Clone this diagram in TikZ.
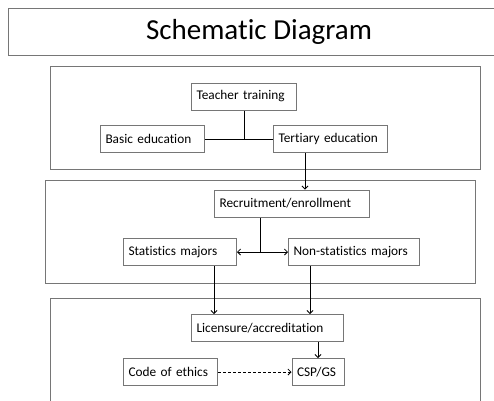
\documentclass[tikz,border=0pt]{standalone}
\usepackage{fontspec}
\setmainfont{Carlito}[Ligatures = NoCommon]
\usetikzlibrary{arrows.meta}
\usetikzlibrary{positioning}
\definecolor{framegray}{RGB}{118,118,118}
\tikzset{frame/.style = {draw = framegray, line width = 1pt}}
\tikzset{box/.style = {draw = framegray, line width = 1pt, minimum height = 27pt, inner xsep = 5pt, inner ysep = 3pt, align = left, font = \fontsize{13.3}{15}\selectfont}}
\tikzset{link/.style = {line width = 0.8pt, -{Straight Barb[length = 3pt, width = 6pt]}}}

\begin{document}
\begin{tikzpicture}[x = 1pt, y = -1pt]
      \useasboundingbox (0, 0) rectangle (494, 400);

      \draw [frame] (8, 8) rectangle (500, 55);
      \node (title) at (259, 31.5) {\fontsize{29}{34}\selectfont Schematic Diagram};

      \draw [frame] (50, 66) rectangle (480, 169);
      \draw [frame] (45, 180) rectangle (475, 283);
      \draw [frame] (50, 298) rectangle (480, 410);

      \node [box, text width = 95pt] (teach) at (244, 96.5) {Teacher training};
      \node [box, text width = 94pt] (basic) at (152.5, 139) {Basic education};
      \node [box, text width = 104pt] (tert) at (330.5, 139) {Tertiary education};

      \node [box, text width = 145pt] (recr) at (292, 203.5) {Recruitment/enrollment};
      \node [box, text width = 103pt] (stat) at (180, 252) {Statistics majors};
      \node [box, text width = 121pt] (nonstat) at (354, 252) {Non-statistics majors};

      \node [box, text width = 142pt] (lic) at (267.5, 328) {Licensure/accreditation};
      \node [box, text width = 84pt] (code) at (170.5, 372) {Code of ethics};
      \node [box, text width = 42pt] (csp) at (318, 372) {CSP/GS};

      \draw [line width = 0.8pt] (teach.south) -- (teach.south |- basic);
      \draw [line width = 0.8pt] (basic.east) -- (tert.west);
      \draw [link] ([xshift = -25.5pt] tert.south) coordinate (t1) -- (t1 |- recr.north);

      \draw [line width = 0.8pt] ([xshift = -32pt] recr.south) coordinate (r1) -- (r1 |- stat) coordinate (split);
      \draw [link] (split) -- (stat.east);
      \draw [link] (split) -- (nonstat.west);

      \draw [link] ([xshift = 34pt] stat.south) coordinate (s1) -- (s1 |- lic.north);
      \draw [link] ([xshift = -44pt] nonstat.south) coordinate (n1) -- (n1 |- lic.north);
      \draw [link] (lic.south -| csp.north) -- (csp.north);
      \draw [link, dash pattern = on 3pt off 2pt] (code) -- (csp);
    \end{tikzpicture}
\end{document}
